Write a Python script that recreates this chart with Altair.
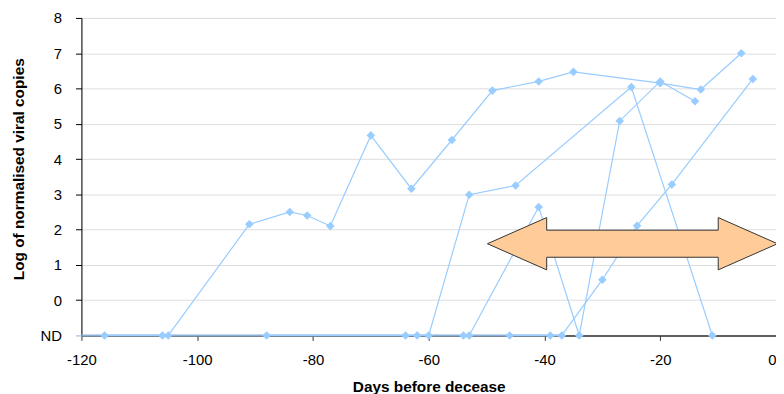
import altair as alt
import pandas as pd

# Series (days before decease, log of normalised viral copies; ND = -1)
a_days = [-116, -106, -105, -91, -84, -81, -77, -70, -63, -56, -49, -41, -35, -20, -13, -6]
a_vals = [-1, -1, -1, 2.15, 2.5, 2.4, 2.1, 4.67, 3.16, 4.54, 5.94, 6.2, 6.47, 6.15, 5.97, 7.0]

b_days = [-88, -64, -62, -60, -53, -45, -25, -11]
b_vals = [-1, -1, -1, -1, 2.99, 3.25, 6.04, -1]

c_days = [-54, -53, -41, -34, -27, -20, -14]
c_vals = [-1, -1, 2.64, -1, 5.08, 6.2, 5.64]

d_days = [-46, -39, -37, -30, -24, -18, -4]
d_vals = [-1, -1, -1, 0.58, 2.11, 3.28, 6.27]

x_ticks = [-120, -100, -80, -60, -40, -20, 0]
y_ticks = [-1, 0, 1, 2, 3, 4, 5, 6, 7, 8]

# ND band (overlapping series lines on the axis)
nd_start = [-120]
nd_end = [-37]

# Double arrow annotation (center)
arrow_x = [-24.8]
arrow_y = [1.6]

rows = []
for name, xs, ys in [("A", a_days, a_vals), ("B", b_days, b_vals),
                     ("C", c_days, c_vals), ("D", d_days, d_vals)]:
    for i, (x, y) in enumerate(zip(xs, ys)):
        rows.append({"series": name, "day": x, "val": y, "idx": i})
df = pd.DataFrame(rows)

FONT = "Liberation Sans"
BLUE = "#99CCFF"

xscale = alt.Scale(domain=[-120, 0], nice=False, zero=False)
yscale = alt.Scale(domain=[-1, 8], nice=False, zero=False)

xaxis = alt.Axis(values=x_ticks, tickCount=20, title="Days before decease", grid=False,
                 labelExpr="datum.value + ''",
                 labelAlign={"condition": {"test": "datum.value === 0", "value": "right"}, "value": "center"},
                 labelFont=FONT, labelFontSize=15, labelColor="#000",
                 titleFont=FONT, titleFontSize=15.5, titleFontWeight="bold", titleColor="#000",
                 domainColor="#333333", domainWidth=1.5, tickColor="#333333", tickSize=5,
                 labelPadding=12, titlePadding=12, labelFlush=False, labelOverlap=False)
yaxis = alt.Axis(values=y_ticks, tickCount=20, title="Log of normalised viral copies",
                 grid=True, gridColor="#DDDDDD", gridWidth=1,
                 labelExpr="datum.value == -1 ? 'ND' : datum.value + ''",
                 labelFont=FONT, labelFontSize=15, labelColor="#000", labelOverlap=False,
                 titleFont=FONT, titleFontSize=15.5, titleFontWeight="bold", titleColor="#000",
                 domainColor="#000", domainWidth=1, tickSize=6, labelPadding=14,
                 tickColor={"condition": {"test": "datum.value === -1", "value": "#8CB0D8"}, "value": "#000"},
                 titlePadding=14, titleY=152)

nd_df = pd.DataFrame({"x0": nd_start, "x1": nd_end, "y": [-1]})
nd_band = alt.Chart(nd_df).mark_rule(color="#8CB0D8", strokeWidth=2).encode(
    x=alt.X("x0:Q", scale=xscale, axis=xaxis), x2="x1:Q",
    y=alt.Y("y:Q", scale=yscale, axis=yaxis)
)

lines = alt.Chart(df).mark_line(color=BLUE, strokeWidth=1.2).encode(
    x=alt.X("day:Q", scale=xscale, axis=xaxis),
    y=alt.Y("val:Q", scale=yscale, axis=yaxis),
    detail="series:N",
    order="idx:Q",
)
points = alt.Chart(df).mark_point(shape="diamond", filled=True, color=BLUE, size=75, opacity=1).encode(
    x=alt.X("day:Q", scale=xscale),
    y=alt.Y("val:Q", scale=yscale),
)

arrow_path = ("M -1 0 L -0.5915 -0.1803 L -0.5915 -0.0934 L 0.5915 -0.0934 L 0.5915 -0.1803 "
              "L 1 0 L 0.5915 0.1803 L 0.5915 0.0934 L -0.5915 0.0934 L -0.5915 0.1803 Z")
arrow = alt.Chart(pd.DataFrame({"x": arrow_x, "y": arrow_y})).mark_point(
    shape=arrow_path, filled=True, fill="#FFCC99", stroke="#333333", strokeWidth=1,
    size=85440, opacity=1, fillOpacity=1, strokeOpacity=1
).encode(x=alt.X("x:Q", scale=xscale), y=alt.Y("y:Q", scale=yscale))

chart = alt.layer(nd_band, lines, points, arrow).properties(
    width=700, height=320,
    autosize=alt.AutoSizeParams(type="none"),
    padding={"left": 74, "top": 8.5, "right": 0, "bottom": 57},
).configure_view(stroke=None).configure(background="white")

chart.save("out.html", embed_options={"renderer": "svg", "actions": False})
